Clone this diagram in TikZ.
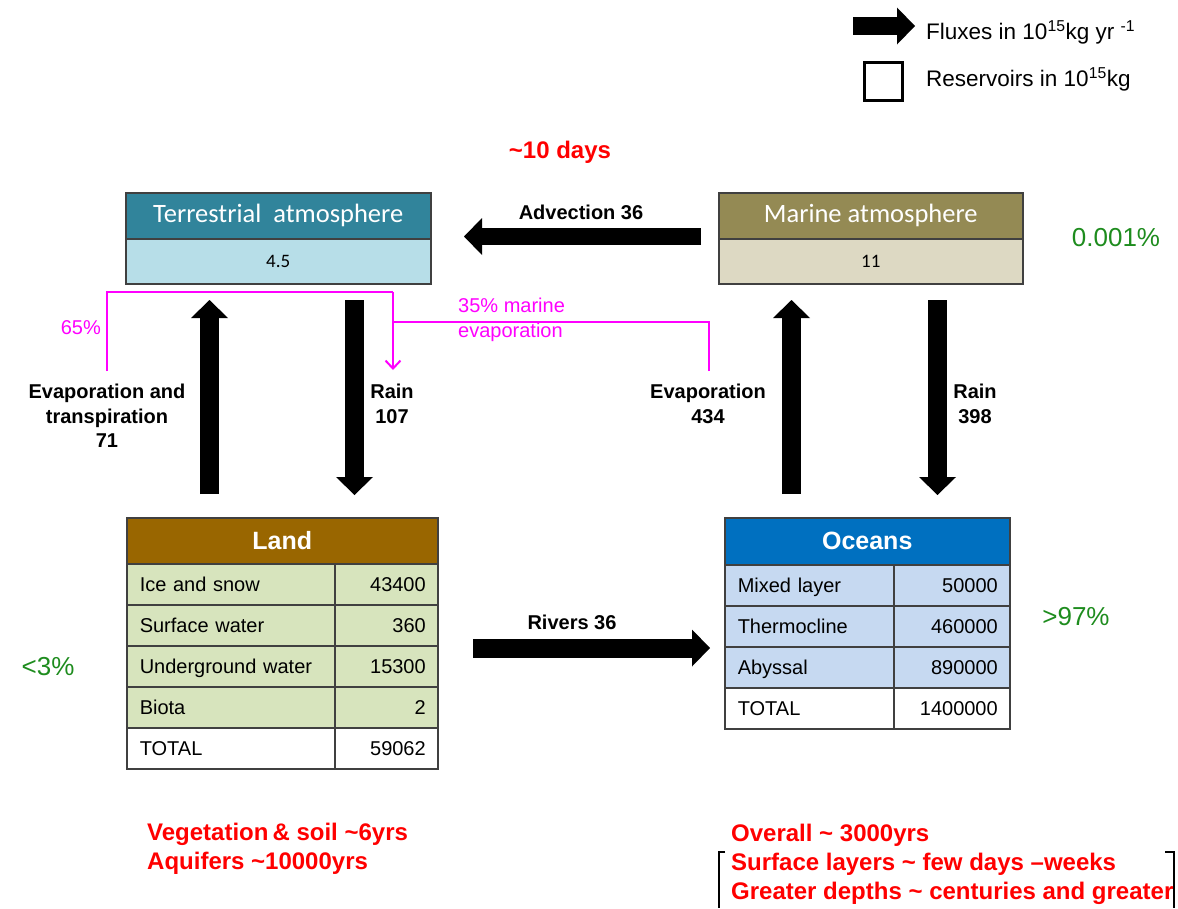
\documentclass[tikz,border=0pt]{standalone}
\usepackage{fontspec}
\setmainfont{Liberation Sans}
\newfontfamily\calfont{Carlito}
\usetikzlibrary{arrows.meta,calc}
\definecolor{tahc}{HTML}{31849B}
\definecolor{tavc}{HTML}{B7DEE8}
\definecolor{mahc}{HTML}{948A54}
\definecolor{mavc}{HTML}{DDD9C3}
\definecolor{landh}{HTML}{996600}
\definecolor{landr}{HTML}{D7E4BD}
\definecolor{oceanh}{HTML}{0070C0}
\definecolor{oceanr}{HTML}{C6D9F1}
\definecolor{bordc}{HTML}{404040}
\definecolor{pinkc}{HTML}{FF00FF}
\definecolor{redc}{HTML}{FF0000}
\definecolor{greenc}{HTML}{1E8C1E}
\tikzset{
  flux/.style={line width=19pt, black, -{Triangle[length=18pt,width=37pt,line width=0pt]}},
  atmhdr/.style={draw=bordc, line width=1.5pt, inner sep=0pt, anchor=north west, minimum height=46pt, text=white, text height=18pt, text depth=4pt, font=\calfont\fontsize{26.5}{30}\selectfont},
  atmval/.style={draw=bordc, line width=1.5pt, inner sep=0pt, anchor=north west, minimum height=45pt, font=\calfont\fontsize{19}{22}\selectfont},
  tblhdr/.style={draw=bordc, line width=1.5pt, inner sep=0pt, anchor=north west, text=white, font=\fontsize{25}{28}\selectfont\bfseries},
  cell/.style={draw=bordc, line width=1.5pt, inner sep=0pt, anchor=north west, minimum height=41pt, text height=16.5pt, text depth=2.5pt, font=\fontsize{20}{24}\selectfont},
  lcell/.style={cell, inner xsep=13pt, align=left},
  rcell/.style={cell, inner xsep=12pt, align=right},
  fluxlbl/.style={align=center, font=\fontsize{20}{24.5}\selectfont\bfseries},
  pinkline/.style={draw=pinkc, line width=2pt},
  pinktxt/.style={text=pinkc, font=\fontsize{20}{25}\selectfont},
  redtxt/.style={text=redc, anchor=base west, inner sep=0pt, font=\fontsize{24}{28}\selectfont\bfseries},
  greentxt/.style={text=greenc, font=\fontsize{26}{30}\selectfont},
  legtxt/.style={anchor=base west, inner sep=0pt, font=\fontsize{22.5}{26}\selectfont},
}
\begin{document}
\begin{tikzpicture}[x=1pt,y=-1pt]
\useasboundingbox (0,0) rectangle (1178,908);

% legend
\coordinate (lgA) at (853,26);
\coordinate (lgB) at (915,26);
\draw[line width=18pt, -{Triangle[length=18pt,width=37pt,line width=0pt]}] (lgA) -- (lgB);
\node[legtxt] (lgflux) at (926,39) {Fluxes in 10\textsuperscript{15}kg yr \textsuperscript{-1}};
\node[draw, line width=3pt, minimum size=38pt, inner sep=0pt] (lgsq) at (883.5,81.5) {};
\node[legtxt] (lgres) at (926,86) {Reservoirs in 10\textsuperscript{15}kg};

% atmosphere boxes
\node[atmhdr, fill=tahc, minimum width=305pt] (tah) at (125,192) {Terrestrial\ \ atmosphere};
\node[atmval, fill=tavc, minimum width=305pt] (tav) at (125,238) {4.5};
\node[atmhdr, fill=mahc, minimum width=304pt] (mah) at (718,192) {Marine atmosphere};
\node[atmval, fill=mavc, minimum width=304pt] (mav) at (718,238) {11};

\node[text=redc, font=\fontsize{24}{28}\selectfont\bfseries] (days) at (560,152) {\textasciitilde10 days};
\node[greentxt] (pct1) at (1116,238) {0.001\%};

% advection
\coordinate (advA) at (701,236.5);
\coordinate (advB) at (464,236.5);
\draw[flux, line width=17pt] (advA) -- (advB);
\node[fluxlbl] (advl) at (581,212) {Advection 36};

% pink recycling lines
\coordinate (pkL) at (107,371);
\coordinate (pkTop) at (393,292);
\coordinate (pkEnd) at (393,370);
\coordinate (pkR) at (709,371);
\coordinate (pkJ) at (393,322);
\draw[pinkline] (pkL) |- (pkTop);
\draw[pinkline, -{Straight Barb[length=8pt,width=15pt]}] (pkTop) -- (pkEnd);
\draw[pinkline] (pkR) |- (pkJ);
\node[pinktxt, anchor=east, inner sep=0pt] (p65) at (101,328) {65\%};
\node[pinktxt, anchor=west, align=left, inner sep=0pt] (p35) at (458,319.5) {35\% marine\\evaporation};

% vertical fluxes
\coordinate (teA) at (209.5,494);
\coordinate (teB) at (209.5,300);
\coordinate (trA) at (354.5,300);
\coordinate (trB) at (354.5,495);
\coordinate (meA) at (791.5,494);
\coordinate (meB) at (791.5,300);
\coordinate (mrA) at (937.5,300);
\coordinate (mrB) at (937.5,495);
\draw[flux] (teA) -- (teB);
\draw[flux] (trA) -- (trB);
\draw[flux] (meA) -- (meB);
\draw[flux] (mrA) -- (mrB);
\node[fluxlbl] (tel) at (107,416) {Evaporation and\\transpiration\\71};
\node[fluxlbl] (trl) at (392,404) {Rain\\107};
\node[fluxlbl] (mel) at (708,404) {Evaporation\\434};
\node[fluxlbl] (mrl) at (975,404) {Rain\\398};

% land table
\node[tblhdr, fill=landh, minimum width=311pt, minimum height=46pt] (landh) at (126,517) {Land};
\node[lcell, fill=landr, text width=182pt] (l1a) at (126,563) {Ice and snow};
\node[rcell, fill=landr, text width=79pt] (l1b) at (334,563) {43400};
\node[lcell, fill=landr, text width=182pt] (l2a) at (126,604) {Surface water};
\node[rcell, fill=landr, text width=79pt] (l2b) at (334,604) {360};
\node[lcell, fill=landr, text width=182pt] (l3a) at (126,645) {Underground water};
\node[rcell, fill=landr, text width=79pt] (l3b) at (334,645) {15300};
\node[lcell, fill=landr, text width=182pt] (l4a) at (126,686) {Biota};
\node[rcell, fill=landr, text width=79pt] (l4b) at (334,686) {2};
\node[lcell, fill=white, text width=182pt] (l5a) at (126,727) {TOTAL};
\node[rcell, fill=white, text width=79pt] (l5b) at (334,727) {59062};

% ocean table
\node[tblhdr, fill=oceanh, minimum width=285pt, minimum height=47pt] (oceh) at (724,517) {Oceans};
\node[lcell, fill=oceanr, text width=143pt] (o1a) at (724,564) {Mixed layer};
\node[rcell, fill=oceanr, text width=92pt] (o1b) at (893,564) {50000};
\node[lcell, fill=oceanr, text width=143pt] (o2a) at (724,605) {Thermocline};
\node[rcell, fill=oceanr, text width=92pt] (o2b) at (893,605) {460000};
\node[lcell, fill=oceanr, text width=143pt] (o3a) at (724,646) {Abyssal};
\node[rcell, fill=oceanr, text width=92pt] (o3b) at (893,646) {890000};
\node[lcell, fill=white, text width=143pt] (o4a) at (724,687) {TOTAL};
\node[rcell, fill=white, text width=92pt] (o4b) at (893,687) {1400000};

% rivers
\coordinate (rvA) at (473,648);
\coordinate (rvB) at (710,648);
\draw[flux] (rvA) -- (rvB);
\node[fluxlbl] (rvl) at (572,622) {Rivers 36};

\node[greentxt] (pct97) at (1076,617) {>97\%};
\node[greentxt] (pct3) at (48,667) {<3\%};

% residence times
\node[redtxt] (rt1) at (147,840) {Vegetation\,\& soil \textasciitilde6yrs};
\node[redtxt] (rt2) at (147,869) {Aquifers \textasciitilde10000yrs};
\node[redtxt] (rt3) at (731,841) {Overall \textasciitilde\ 3000yrs};
\node[redtxt] (rt4) at (731,870) {Surface layers \textasciitilde\ few days \textendash weeks};
\node[redtxt] (rt5) at (731,899) {Greater depths \textasciitilde\ centuries and greater};
\draw[line width=1.5pt] (725,852) -- (719,852) -- (719,908);
\draw[line width=1.5pt] (1165,852) -- (1174,852) -- (1174,908);
\end{tikzpicture}
\end{document}
